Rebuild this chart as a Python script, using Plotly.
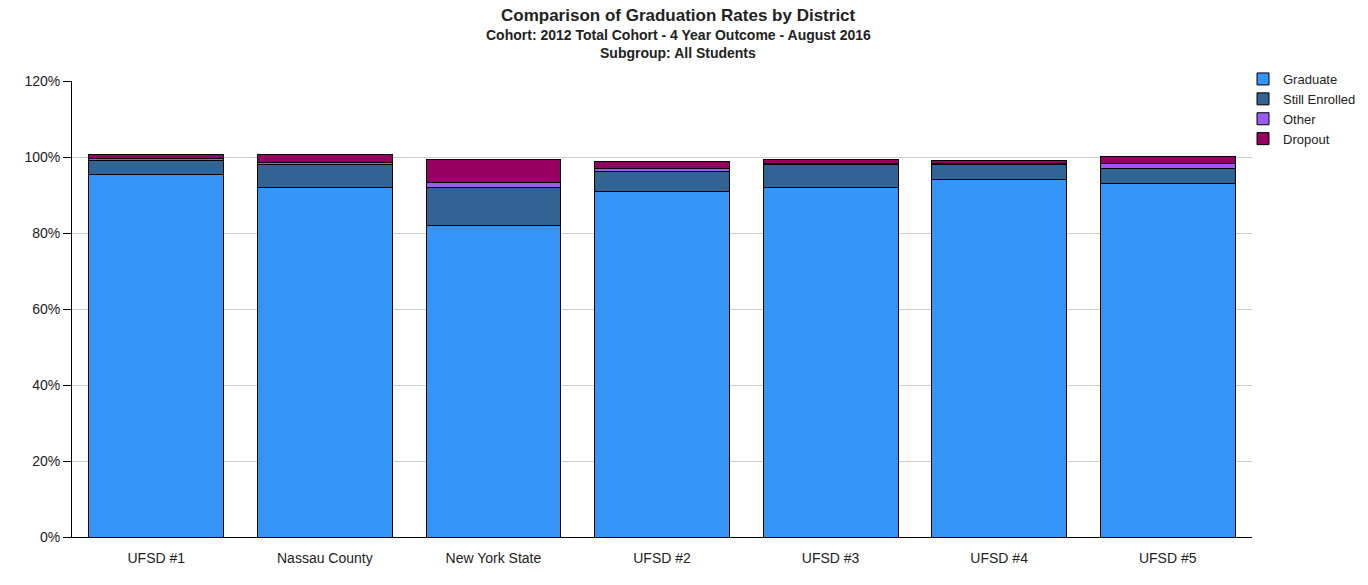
import plotly.graph_objects as go

categories = ["UFSD #1", "Nassau County", "New York State", "UFSD #2", "UFSD #3", "UFSD #4", "UFSD #5"]
graduate = [95.3, 92.0, 82.0, 91.0, 92.0, 94.1, 93.1]
still_enrolled = [3.8, 6.0, 10.0, 5.2, 6.0, 4.0, 4.0]
other = [0.4, 0.5, 1.3, 0.8, 0.3, 0.1, 1.3]
dropout = [1.2, 2.2, 6.1, 1.9, 1.1, 1.0, 1.8]

series = [
    ("Graduate", graduate, "#3595F7"),
    ("Still Enrolled", still_enrolled, "#316494"),
    ("Other", other, "#9A5CF5"),
    ("Dropout", dropout, "#960060"),
]

fig = go.Figure()
for name, vals, color in series:
    fig.add_trace(go.Bar(
        x=categories, y=vals, name=name,
        marker=dict(color=color, line=dict(color="black", width=1)),
        hovertemplate="%{x}<br>" + name + ": %{y}%<extra></extra>",
    ))

font = "Liberation Sans, Arial, sans-serif"
fig.update_layout(
    barmode="stack",
    bargap=0.2,
    width=1368, height=585,
    margin=dict(l=72, r=116, t=81, b=48, autoexpand=False),
    plot_bgcolor="white", paper_bgcolor="white",
    font=dict(family=font, size=14, color="#222"),
    showlegend=True,
    legend=dict(xref="container", yref="container", x=1243 / 1368, y=1 - 64 / 585,
                xanchor="left", yanchor="top", traceorder="normal",
                font=dict(size=13, color="#222"), tracegroupgap=0,
                itemwidth=30, bgcolor="rgba(0,0,0,0)"),
    xaxis=dict(showline=True, linecolor="black", linewidth=1, ticks="",
               ticklabelstandoff=8,
               tickfont=dict(size=14, color="#222")),
    yaxis=dict(range=[0, 120], tickvals=[0, 20, 40, 60, 80, 100, 120],
               ticktext=["0%", "20%", "40%", "60%", "80%", "100%", "120%"],
               showline=True, linecolor="black", linewidth=1,
               ticks="outside", ticklen=8, tickcolor="black",
               showgrid=True, gridcolor="#cccccc", gridwidth=1,
               zeroline=False, tickfont=dict(size=14, color="#222")),
)

plot_h = 585 - 81 - 48
def py(pix):
    return (585 - 48 - pix) / plot_h
cx = (678 - 72) / (1368 - 72 - 116)
titles = [
    ("<b>Comparison of Graduation Rates by District</b>", 16, 17),
    ("<b>Cohort: 2012 Total Cohort - 4 Year Outcome - August 2016</b>", 35, 14),
    ("<b>Subgroup: All Students</b>", 53, 14),
]
for text, pix, size in titles:
    fig.add_annotation(text=text, x=cx, y=py(pix), xref="paper", yref="paper",
                       xanchor="center", yanchor="middle", showarrow=False,
                       font=dict(size=size, color="#222"))

fig.write_html("out.html")
